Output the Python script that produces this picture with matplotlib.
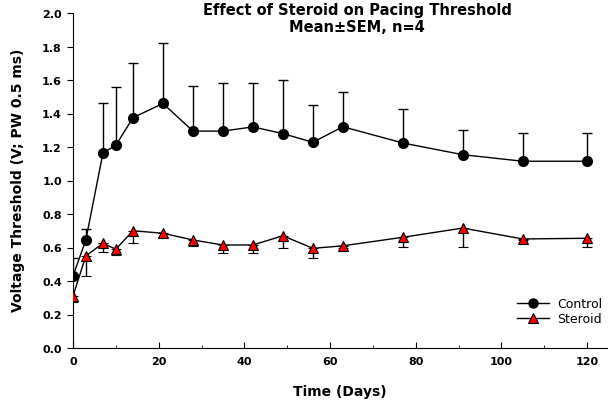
import matplotlib
matplotlib.use("Agg")
import matplotlib.pyplot as plt
from matplotlib.ticker import MultipleLocator, FormatStrFormatter
from matplotlib.lines import Line2D

plt.rcParams['font.family'] = ['DejaVu Sans']

days = [0, 3, 7, 10, 14, 21, 28, 35, 42, 49, 56, 63, 77, 91, 105, 120]
control = [0.43, 0.645, 1.165, 1.21, 1.375, 1.46, 1.295, 1.295, 1.32, 1.28, 1.228, 1.321, 1.224, 1.154, 1.115, 1.115]
control_upper = [0.537, 0.71, 1.465, 1.56, 1.70, 1.82, 1.565, 1.585, 1.58, 1.60, 1.451, 1.527, 1.427, 1.303, 1.284, 1.284]
steroid = [0.31, 0.55, 0.625, 0.59, 0.70, 0.685, 0.645, 0.615, 0.615, 0.67, 0.595, 0.61, 0.661, 0.716, 0.651, 0.655]
steroid_lower = [0.276, 0.428, 0.575, 0.555, 0.628, 0.665, 0.609, 0.57, 0.57, 0.60, 0.537, 0.60, 0.601, 0.601, 0.643, 0.601]

c_err = [[0]*len(control), [u - v for u, v in zip(control_upper, control)]]
s_err = [[v - l for v, l in zip(steroid, steroid_lower)], [0]*len(steroid)]

fig = plt.figure(figsize=(6.08, 4.02), dpi=100)
ax = fig.add_axes([73/608, 1 - 349/402, (608-73)/608, (349-14)/402])

ax.errorbar(days, control, yerr=c_err, fmt='-o', color='black', mfc='black', mec='black',
            ms=7, lw=1, elinewidth=1, capsize=3.6, capthick=1, zorder=3)
ax.errorbar(days, steroid, yerr=s_err, fmt='-^', color='black', mfc='#ff0000', mec='black',
            ms=7.5, mew=0.8, lw=1, elinewidth=1, capsize=3.6, capthick=1, zorder=3)

ax.set_xlim(0, (608-73)/((587-73)/120))
ax.set_ylim(0, 2.0)
ax.spines['top'].set_visible(False)
ax.spines['right'].set_visible(False)
ax.set_xticks([0, 20, 40, 60, 80, 100, 120])
ax.xaxis.set_minor_locator(MultipleLocator(10))
ax.yaxis.set_major_locator(MultipleLocator(0.2))
ax.tick_params(axis='x', which='major', direction='in', length=4, labelsize=8, pad=6)
ax.tick_params(axis='x', which='minor', direction='in', length=2.5)
ax.tick_params(axis='y', direction='out', length=4, labelsize=8, pad=4)
ax.yaxis.set_major_formatter(FormatStrFormatter('%.1f'))
for lab in ax.get_xticklabels() + ax.get_yticklabels():
    lab.set_fontweight('bold')

fig.text(357/608, 1 - 11/402, 'Effect of Steroid on Pacing Threshold', ha='center', va='center',
         fontsize=10.5, fontweight='bold')
fig.text(357/608, 1 - 27/402, 'Mean\u00b1SEM, n=4', ha='center', va='center',
         fontsize=10.5, fontweight='bold')
fig.text(340/608, 1 - 392/402, 'Time (Days)', ha='center', va='center', fontsize=10, fontweight='bold')
fig.text(18/608, 1 - 180/402, 'Voltage Threshold (V; PW 0.5 ms)', ha='center', va='center',
         rotation=90, fontsize=10, fontweight='bold')

handles = [Line2D([], [], color='black', lw=1, marker='o', mfc='black', mec='black', ms=6.5),
           Line2D([], [], color='black', lw=1, marker='^', mfc='#ff0000', mec='black', ms=7, mew=0.8)]
ax.legend(handles, ['Control', 'Steroid'], loc='lower right', bbox_to_anchor=(1.01, 0.035),
          frameon=False, fontsize=9, handlelength=2.6, handletextpad=0.6, labelspacing=0.15)

fig.savefig('out.png', dpi=100)
